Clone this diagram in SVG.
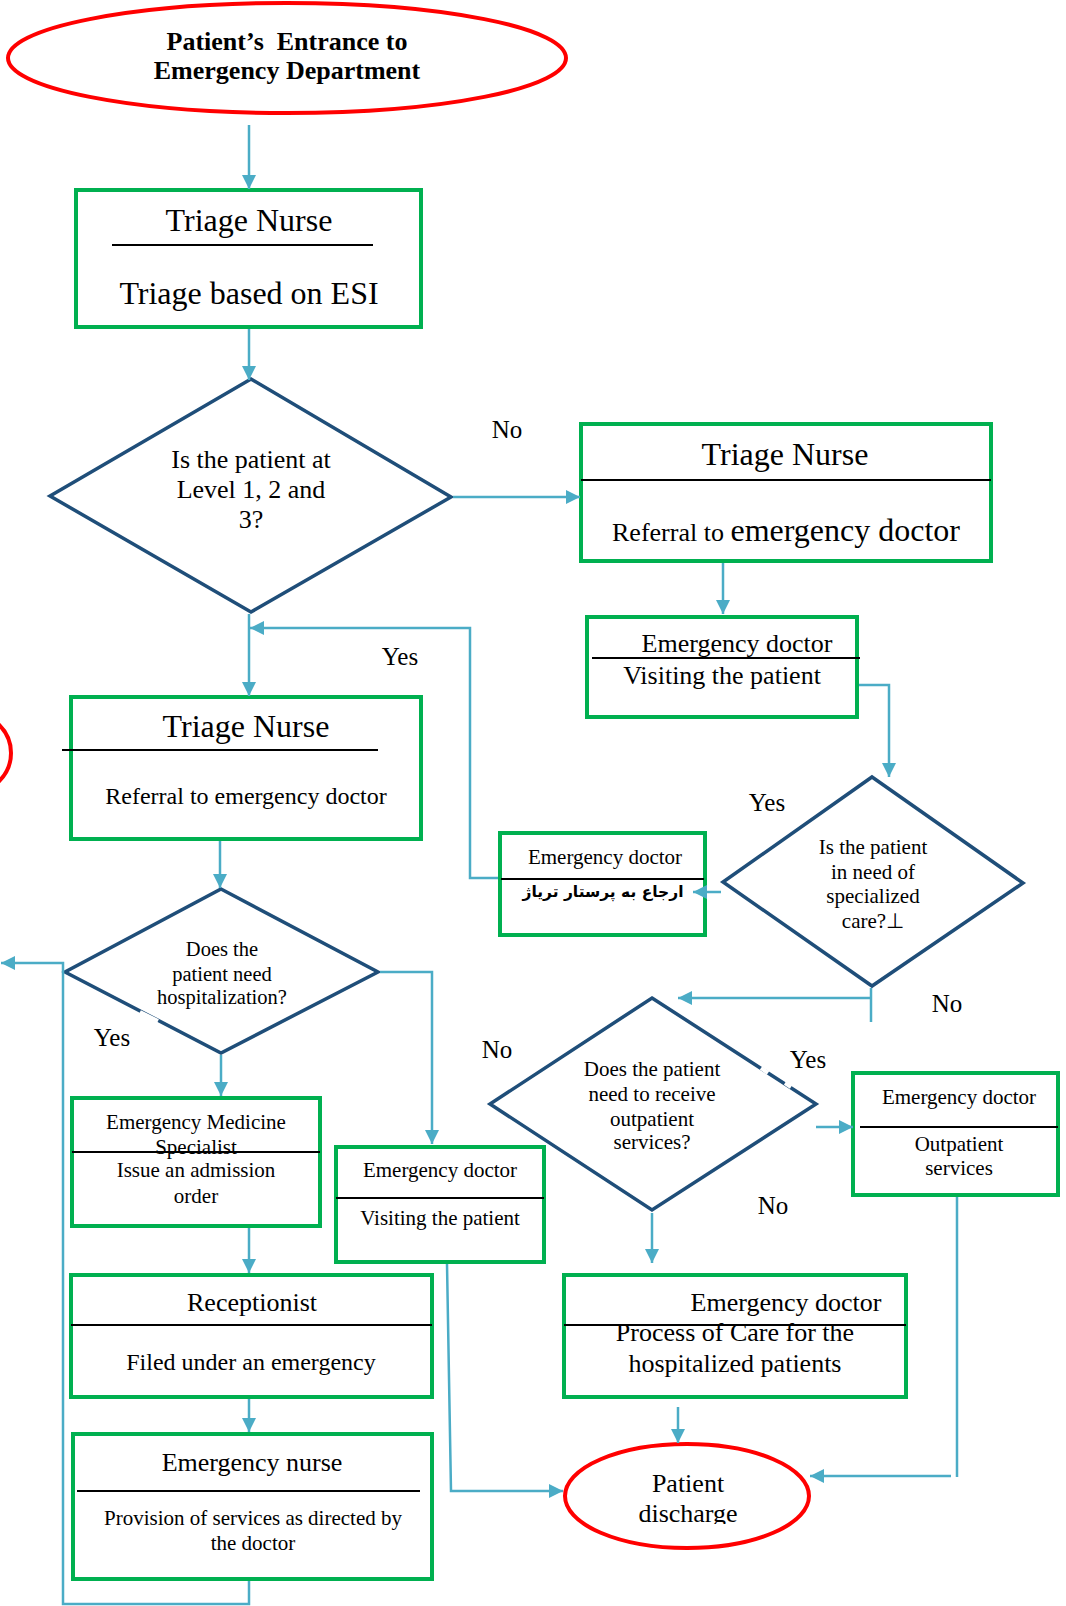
<svg xmlns="http://www.w3.org/2000/svg" width="1066" height="1606" viewBox="0 0 1066 1606">
<defs>
<style>
.box{fill:#fff;stroke:#00B050;stroke-width:4}
.dia{fill:#fff;stroke:#1F4E79;stroke-width:3.5;stroke-linejoin:miter}
.term{fill:#fff;stroke:#FF0000;stroke-width:4}
.div{stroke:#000;stroke-width:2}
.con{fill:none;stroke:#4BACC6;stroke-width:2.5}
.arr{marker-end:url(#ah)}
text{font-family:"Liberation Serif","Times New Roman",serif;fill:#000;text-anchor:middle}
.t32{font-size:32px}.t26{font-size:26px}.t24{font-size:24px}.t21{font-size:21px}.t20{font-size:20.5px}
.lbl{font-size:25px}
.gap{stroke:#fff;stroke-width:4}
</style>
<marker id="ah" markerUnits="userSpaceOnUse" markerWidth="14" markerHeight="14" refX="14" refY="7" orient="auto"><path d="M0,0 L14,7 L0,14 z" fill="#4BACC6"/></marker>
<clipPath id="clipDis"><rect x="560" y="1440" width="260" height="84"/></clipPath>
</defs>

<g id="start">
<ellipse class="term" cx="287" cy="58" rx="279" ry="55"/>
<text font-size="26" font-weight="bold" x="287" y="50" style="white-space:pre">Patient’s  Entrance to</text>
<text font-size="26" font-weight="bold" x="287" y="79">Emergency Department</text>
</g>

<g id="triage1">
<rect class="box" x="76" y="190" width="345" height="137"/>
<text class="t32" x="249" y="231">Triage Nurse</text>
<line class="div" x1="112" y1="245" x2="373" y2="245"/>
<text class="t32" x="249" y="304">Triage based on ESI</text>
</g>

<g id="dec1">
<polygon class="dia" points="251,379 451,497 251,612 50,496"/>
<text class="t26" x="251" y="468">Is the patient at</text>
<text class="t26" x="251" y="498">Level 1, 2 and</text>
<text class="t26" x="251" y="528">3?</text>
</g>

<g id="triage2">
<rect class="box" x="581" y="424" width="410" height="137"/>
<text class="t32" x="785" y="465">Triage Nurse</text>
<line class="div" x1="581" y1="480" x2="991" y2="480"/>
<text x="786" y="541"><tspan font-size="26">Referral to </tspan><tspan font-size="32">emergency doctor</tspan></text>
</g>

<g id="doc1">
<rect class="box" x="587" y="617" width="270" height="100"/>
<text class="t26" x="737" y="652">Emergency doctor</text>
<line class="div" x1="592" y1="658" x2="860" y2="658"/>
<text class="t26" x="722" y="684">Visiting the patient</text>
</g>

<g id="dec2">
<polygon class="dia" points="872,777 1023,883 872,986 723,882"/>
<text class="t21" x="873" y="854">Is the patient</text>
<text class="t21" x="873" y="879">in need of</text>
<text class="t21" x="873" y="903">specialized</text>
<text class="t21" x="873" y="928">care?⊥</text>
</g>

<g id="docFa">
<rect class="box" x="500" y="833" width="205" height="102"/>
<text class="t21" x="605" y="864">Emergency doctor</text>
<line class="div" x1="501" y1="879" x2="704" y2="879"/>
<text x="603" y="897" font-weight="bold" style="font-family:'DejaVu Sans','Noto Sans',sans-serif;font-size:15.5px" direction="rtl">ارجاع به پرستار تریاژ</text>
</g>

<g id="triage3">
<rect class="box" x="71" y="697" width="350" height="142"/>
<text class="t32" x="246" y="737">Triage Nurse</text>
<line class="div" x1="62" y1="750" x2="378" y2="750"/>
<text class="t24" x="246" y="804">Referral to emergency doctor</text>
</g>

<g id="arcLeft">
<ellipse class="term" cx="-30" cy="753" rx="41" ry="40"/>
</g>

<g id="dec3">
<polygon class="dia" points="221,889 378,972 221,1053 65,972"/>
<line class="gap" x1="140" y1="1012" x2="158" y2="1021"/>
<text class="t20" x="222" y="956">Does the</text>
<text class="t20" x="222" y="981">patient need</text>
<text class="t20" x="222" y="1004">hospitalization?</text>
</g>

<g id="ems">
<rect class="box" x="72" y="1098" width="248" height="128"/>
<text class="t21" x="196" y="1129">Emergency Medicine</text>
<text class="t21" x="196" y="1154">Specialist</text>
<line class="div" x1="72" y1="1152" x2="320" y2="1152"/>
<text class="t21" x="196" y="1177">Issue an admission</text>
<text class="t21" x="196" y="1203">order</text>
</g>

<g id="doc2">
<rect class="box" x="336" y="1147" width="208" height="115"/>
<text class="t21" x="440" y="1177">Emergency doctor</text>
<line class="div" x1="336" y1="1198" x2="544" y2="1198"/>
<text class="t21" x="440" y="1225">Visiting the patient</text>
</g>

<g id="recept">
<rect class="box" x="71" y="1275" width="361" height="122"/>
<text class="t26" x="252" y="1311">Receptionist</text>
<line class="div" x1="71" y1="1325" x2="432" y2="1325"/>
<text class="t24" x="251" y="1370">Filed under an emergency</text>
</g>

<g id="nurse">
<rect class="box" x="73" y="1434" width="359" height="145"/>
<text class="t26" x="252" y="1471">Emergency nurse</text>
<line class="div" x1="77" y1="1491" x2="420" y2="1491"/>
<text class="t21" x="253" y="1525">Provision of services as directed by</text>
<text class="t21" x="253" y="1550">the doctor</text>
</g>

<g id="dec4">
<polygon class="dia" points="652,998 816,1104 652,1210 490,1104"/>
<line class="gap" x1="761" y1="1068" x2="768" y2="1073"/>
<line class="gap" x1="785" y1="1083" x2="791" y2="1087"/>
<text class="t21" x="652" y="1076">Does the patient</text>
<text class="t21" x="652" y="1101">need to receive</text>
<text class="t21" x="652" y="1126">outpatient</text>
<text class="t21" x="652" y="1149">services?</text>
</g>

<g id="outpat">
<rect class="box" x="853" y="1073" width="205" height="122"/>
<text class="t21" x="959" y="1104">Emergency doctor</text>
<line class="div" x1="860" y1="1127" x2="1058" y2="1127"/>
<text class="t21" x="959" y="1151">Outpatient</text>
<text class="t21" x="959" y="1175">services</text>
</g>

<g id="poc">
<rect class="box" x="564" y="1275" width="342" height="122"/>
<text class="t26" x="786" y="1311">Emergency doctor</text>
<line class="div" x1="564" y1="1325" x2="906" y2="1325"/>
<text class="t26" x="735" y="1341">Process of Care for the</text>
<text class="t26" x="735" y="1372">hospitalized patients</text>
</g>

<g id="discharge">
<ellipse class="term" cx="687" cy="1496" rx="122" ry="52"/>
<text class="t26" x="688" y="1492">Patient</text>
<text class="t26" x="688" y="1522" clip-path="url(#clipDis)">discharge</text>
</g>

<g id="connectors">
<path class="con arr" d="M249,125 L249,189"/>
<path class="con arr" d="M249,329 L249,380"/>
<path class="con arr" d="M453,497 L580,497"/>
<path class="con arr" d="M723,563 L723,614"/>
<path class="con arr" d="M859,685 L889,685 L889,777"/>
<path class="con arr" d="M721,892 L693,892"/>
<path class="con arr" d="M498,878 L470,878 L470,628 L250,628"/>
<path class="con arr" d="M249,614 L249,696"/>
<path class="con arr" d="M220,841 L220,888"/>
<path class="con arr" d="M249,1581 L249,1604 L63,1604 L63,963 L1,963"/>
<path class="con arr" d="M380,972 L432,972 L432,1144"/>
<path class="con arr" d="M221,1055 L221,1096"/>
<path class="con arr" d="M249,1228 L249,1273"/>
<path class="con arr" d="M249,1399 L249,1432"/>
<path class="con arr" d="M447,1264 L451,1491 L563,1491"/>
<path class="con" d="M871,988 L871,1022"/>
<path class="con arr" d="M871,998 L678,998"/>
<path class="con arr" d="M816,1127 L853,1127"/>
<path class="con" d="M957,1197 L957,1477"/>
<path class="con arr" d="M951,1476 L810,1476"/>
<path class="con arr" d="M652,1213 L652,1263"/>
<path class="con arr" d="M678,1407 L678,1443"/>
</g>

<g id="labels">
<text class="lbl" x="507" y="438">No</text>
<text class="lbl" x="400" y="665">Yes</text>
<text class="lbl" x="767" y="811">Yes</text>
<text class="lbl" x="112" y="1046">Yes</text>
<text class="lbl" x="947" y="1012">No</text>
<text class="lbl" x="497" y="1058">No</text>
<text class="lbl" x="808" y="1068">Yes</text>
<text class="lbl" x="773" y="1214">No</text>
</g>
</svg>
